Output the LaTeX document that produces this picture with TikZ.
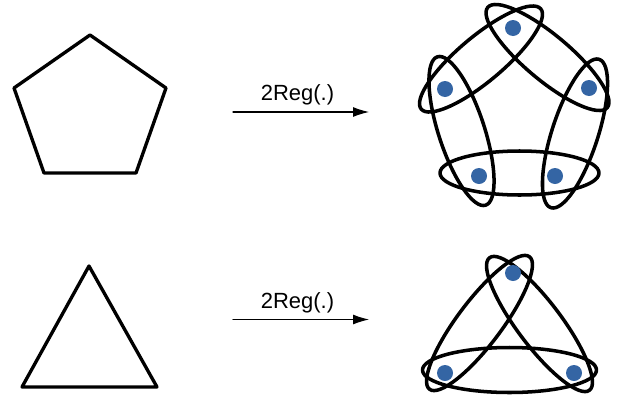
\documentclass[tikz,border=0pt]{standalone}
\usepackage{fontspec}
\setmainfont{Liberation Sans}
\usetikzlibrary{arrows.meta}
\definecolor{vblue}{RGB}{52,101,164}
\begin{document}
\begin{tikzpicture}[line cap=round,line join=round,>={Latex[length=0.32cm,width=0.2cm]},
  outline/.style={line width=1.9pt},
  hedge/.style={line width=2pt},
  vdot/.style={circle,fill=vblue,inner sep=0pt,minimum size=0.32cm},
  maplabel/.style={anchor=base,font=\fontsize{12.5}{15}\selectfont}]
  \useasboundingbox (0,0) rectangle (12.5,8.1);
  % input graphs
  \draw[outline] (1.80,7.40) -- (3.32,6.34) -- (2.72,4.64) -- (0.88,4.64) -- (0.28,6.34) -- cycle;
  \draw[outline] (1.78,2.78) -- (3.14,0.36) -- (0.44,0.36) -- cycle;
  % maps
  \coordinate (s1) at (4.66,5.86);
  \coordinate (t1) at (7.38,5.86);
  \draw[line width=0.6pt,->] (s1) -- (t1);
  \node[maplabel] (m1) at (5.95,6.09) {2Reg(.)};
  \coordinate (s2) at (4.66,1.71);
  \coordinate (t2) at (7.38,1.71);
  \draw[line width=0.6pt,->] (s2) -- (t2);
  \node[maplabel] (m2) at (5.95,1.93) {2Reg(.)};
  % hyperedges, pentagon
  \draw[hedge,rotate around={40:(9.62,6.92)}] (9.62,6.92) ellipse [x radius=1.56,y radius=0.45];
  \draw[hedge,rotate around={-40:(10.95,6.95)}] (10.95,6.95) ellipse [x radius=1.56,y radius=0.45];
  \draw[hedge,rotate around={-72:(9.23,5.48)}] (9.23,5.48) ellipse [x radius=1.56,y radius=0.46];
  \draw[hedge,rotate around={72:(11.50,5.43)}] (11.50,5.43) ellipse [x radius=1.56,y radius=0.46];
  \draw[hedge] (10.39,4.64) ellipse [x radius=1.59,y radius=0.44];
  % hyperedges, triangle
  \draw[hedge,rotate around={53:(9.59,1.64)}] (9.59,1.64) ellipse [x radius=1.66,y radius=0.44];
  \draw[hedge,rotate around={-53:(10.79,1.62)}] (10.79,1.62) ellipse [x radius=1.66,y radius=0.44];
  \draw[hedge] (10.19,0.70) ellipse [x radius=1.74,y radius=0.45];
  % vertices
  \node[vdot] (p1) at (10.26,7.54) {};
  \node[vdot] (p2) at (8.90,6.32) {};
  \node[vdot] (p3) at (11.78,6.34) {};
  \node[vdot] (p4) at (9.58,4.58) {};
  \node[vdot] (p5) at (11.10,4.58) {};
  \node[vdot] (q1) at (10.26,2.64) {};
  \node[vdot] (q2) at (8.90,0.64) {};
  \node[vdot] (q3) at (11.48,0.64) {};
\end{tikzpicture}
\end{document}
